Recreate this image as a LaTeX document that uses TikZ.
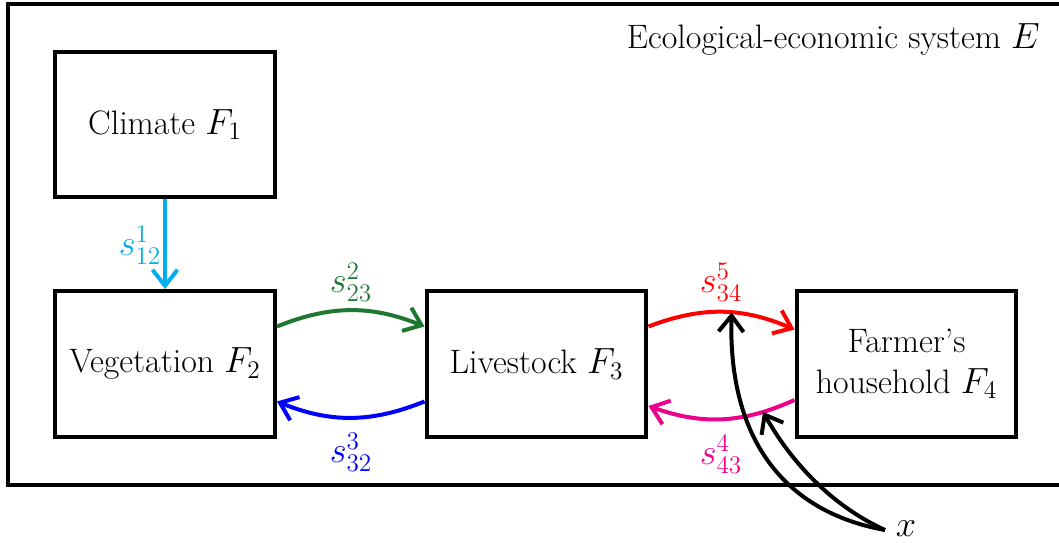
\documentclass[tikz,border=0pt]{standalone}
\usetikzlibrary{arrows.meta,calc}
\definecolor{cCyan}{RGB}{0,174,239}
\definecolor{cGreen}{RGB}{30,120,50}
\definecolor{cBlue}{RGB}{0,0,255}
\definecolor{cRed}{RGB}{255,0,0}
\definecolor{cMag}{RGB}{236,0,140}
\begin{document}
\begin{tikzpicture}[x=0.02cm,y=-0.02cm,
  box/.style={draw,line width=0.08cm,minimum width=4.4cm,minimum height=2.92cm,align=center,inner sep=0pt},
  arr/.style={line width=0.08cm,-{Straight Barb[length=0.32cm,width=0.5cm]}},
  txt/.style={font=\fontsize{19.3}{26}\selectfont},
  lbl/.style={font=\fontsize{19.3}{26}\selectfont,inner sep=0pt}]
\useasboundingbox (0,0) rectangle (1059,542);
\draw[line width=0.08cm] (8,4) rectangle (1070,485);
\node[txt,anchor=east] (title) at (1046,40) {Ecological-economic system $E$};
\node[box,txt] (clim) at (165,124.5) {Climate $F_1$};
\node[box,txt] (veg) at (165,364) {Vegetation $F_2$};
\node[box,txt] (live) at (536.5,364) {Livestock $F_3$};
\node[box,txt] (farm) at (906.5,364) {Farmer's\\[-3pt]household $F_4$};
\coordinate (vegNE) at ($(veg.north east)!0.25!(veg.south east)$);
\coordinate (vegSE) at ($(veg.north east)!0.75!(veg.south east)$);
\coordinate (liveNW) at ($(live.north west)!0.25!(live.south west)$);
\coordinate (liveSW) at ($(live.north west)!0.75!(live.south west)$);
\coordinate (liveNE) at ($(live.north east)!0.25!(live.south east)$);
\coordinate (liveSE) at ($(live.north east)!0.78!(live.south east)$);
\coordinate (farmNW) at ($(farm.north west)!0.27!(farm.south west)$);
\coordinate (farmSW) at ($(farm.north west)!0.74!(farm.south west)$);
\draw[arr,cCyan] (clim.south) -- (veg.north);
\node[lbl,text=cCyan] (l1) at (140,245) {$s^1_{12}$};
\draw[arr,cGreen] (vegNE) to[bend left=22] (liveNW);
\node[lbl,text=cGreen] (l2) at (351,282) {$s^2_{23}$};
\draw[arr,cBlue] (liveSW) to[bend left=22] (vegSE);
\node[lbl,text=cBlue] (l3) at (351,452) {$s^3_{32}$};
\draw[arr,cRed] (liveNE) to[bend left=22] coordinate[pos=0.57] (redmid) (farmNW);
\node[lbl,text=cRed] (l5) at (721,282) {$s^5_{34}$};
\draw[arr,cMag] (farmSW) to[bend left=22] coordinate[pos=0.21] (magmid) (liveSE);
\node[lbl,text=cMag] (l4) at (721,454) {$s^4_{43}$};
\node[lbl] (x) at (906,529) {$x$};
\coordinate (xs) at (885,530);
\draw[arr,black] (xs) .. controls (785,512) and (728,440) .. (redmid);
\draw[arr,black] (xs) .. controls (830,505) and (790,460) .. (magmid);
\end{tikzpicture}
\end{document}
